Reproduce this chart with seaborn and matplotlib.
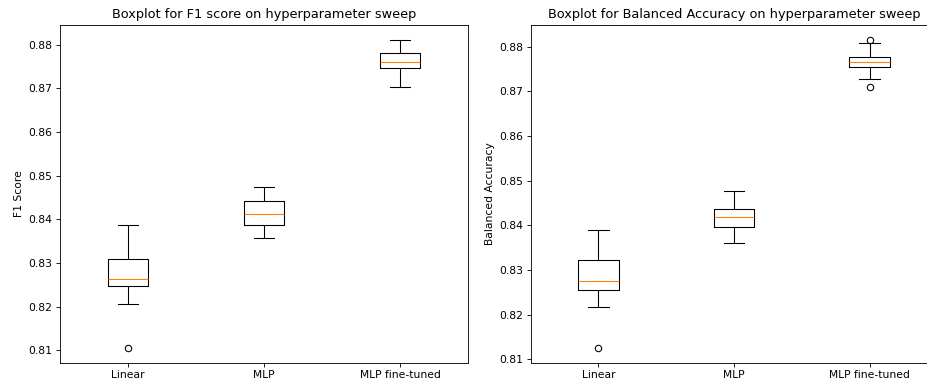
import pandas as pd
import matplotlib.pyplot as plt
import seaborn as sns

# values (9 runs per model in the sweep)
models = ["Linear", "MLP", "MLP fine-tuned"]

f1_linear = [0.8106, 0.8205, 0.8247, 0.8255, 0.8263, 0.8290, 0.8310, 0.8350, 0.8388]
f1_mlp = [0.8358, 0.8372, 0.8387, 0.8400, 0.8411, 0.8428, 0.8443, 0.8460, 0.8473]
f1_mlp_ft = [0.8702, 0.8730, 0.8746, 0.8753, 0.8761, 0.8770, 0.8781, 0.8795, 0.8811]

ba_linear = [0.8126, 0.8216, 0.8256, 0.8265, 0.8275, 0.8300, 0.8322, 0.8355, 0.8390]
ba_mlp = [0.8361, 0.8380, 0.8396, 0.8408, 0.8419, 0.8428, 0.8437, 0.8455, 0.8476]
ba_mlp_ft = [0.8710, 0.8727, 0.8754, 0.8760, 0.8765, 0.8771, 0.8777, 0.8809, 0.8815]

df = pd.DataFrame({
    "model": [models[0]] * 9 + [models[1]] * 9 + [models[2]] * 9,
    "f1": f1_linear + f1_mlp + f1_mlp_ft,
    "ba": ba_linear + ba_mlp + ba_mlp_ft,
})

DPI = 77
fig = plt.figure(figsize=(927 / DPI, 383 / DPI), dpi=DPI)
ax1 = fig.add_axes([60 / 927, 20 / 383, 408 / 927, 338.5 / 383])
ax2 = fig.add_axes([530.5 / 927, 20 / 383, 407 / 927, 338.5 / 383])

box_kws = dict(
    order=models, width=0.3, fill=False, color="black", linewidth=1,
    medianprops={"color": "#ff7f0e"},
    flierprops={"marker": "o", "markerfacecolor": "none",
                "markeredgecolor": "black", "markersize": 6, "markeredgewidth": 1},
)

sns.boxplot(data=df, x="model", y="f1", ax=ax1, **box_kws)
ax1.set_title("Boxplot for F1 score on hyperparameter sweep")
ax1.set_xlabel("")
ax1.set_ylabel("F1 Score")

sns.boxplot(data=df, x="model", y="ba", ax=ax2, **box_kws)
ax2.set_title("Boxplot for Balanced Accuracy on hyperparameter sweep")
ax2.set_xlabel("")
ax2.set_ylabel("Balanced Accuracy")

fig.savefig("out.png", dpi=DPI)
